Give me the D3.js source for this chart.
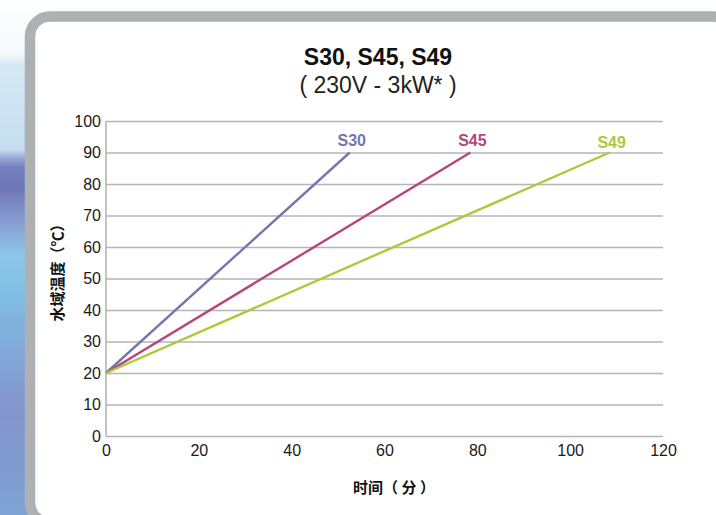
<!DOCTYPE html>
<html>
<head>
<meta charset="utf-8">
<script src="https://cdn.jsdelivr.net/npm/d3@7"></script>
<style>
  html, body { margin: 0; padding: 0; background: #fff; }
  svg { display: block; }
  .tick-label { font-family: "Liberation Sans", Arial, sans-serif; font-size: 16px; fill: #1a1a1a; }
  .cjk { font-family: "Noto Sans CJK SC", sans-serif; font-weight: 700; font-size: 15px; fill: #111; }
</style>
</head>
<body>
<div id="chart"></div>
<script>
// ---- data ----
const xTicks = [0, 20, 40, 60, 80, 100, 120];
const yTicks = [0, 10, 20, 30, 40, 50, 60, 70, 80, 90, 100];

const seriesNames = ['S30', 'S45', 'S49'];
const seriesColors = ['#7676ad', '#b6467b', '#a9cb3a'];

// time (min) / water temperature (°C)
const timeS30 = [0, 52.5];
const tempS30 = [20, 90];
const timeS45 = [0, 78.5];
const tempS45 = [20, 90];
const timeS49 = [0, 108.5];
const tempS49 = [20, 90];

const seriesTimes = [timeS30, timeS45, timeS49];
const seriesTemps = [tempS30, tempS45, tempS49];

// ---- layout ----
const W = 716, H = 515;
const plot = { left: 106, top: 121, right: 663, bottom: 436 };

const svg = d3.select('#chart').append('svg')
    .attr('width', W)
    .attr('height', H);

// background strip on the left
const defs = svg.append('defs');
const grad = defs.append('linearGradient')
    .attr('id', 'bg')
    .attr('x1', 0).attr('y1', 0).attr('x2', 0).attr('y2', 1);
[
    [0, '#ffffff'], [0.105, '#f4f8fb'], [0.125, '#d6e8f4'], [0.29, '#c6def0'],
    [0.305, '#9dadd8'], [0.325, '#7680bf'], [0.365, '#6e77b6'], [0.42, '#8696cd'],
    [0.5, '#8cc8e8'], [0.56, '#80c0e4'], [0.68, '#80a9d9'], [0.8, '#8494cc'],
    [0.9, '#7f9bd0'], [1, '#7fa4d4']
].forEach(([o, c]) => grad.append('stop').attr('offset', o).attr('stop-color', c));

svg.append('rect')
    .attr('x', 0).attr('y', 0)
    .attr('width', 40).attr('height', H)
    .attr('fill', 'url(#bg)');

// card (runs off the right and bottom edges)
svg.append('rect')
    .attr('x', 30).attr('y', 16.5)
    .attr('width', 702).attr('height', 506)
    .attr('rx', 20).attr('ry', 20)
    .attr('fill', '#fff')
    .attr('stroke', '#adb1b4')
    .attr('stroke-width', 10.5);

// ---- scales ----
const x = d3.scaleLinear().domain([0, 120]).range([plot.left, plot.right]);
const y = d3.scaleLinear().domain([0, 100]).range([plot.bottom, plot.top]);

// gridlines
svg.append('g')
    .attr('transform', `translate(${plot.left},0)`)
    .call(d3.axisLeft(y).tickValues(yTicks).tickSize(-(plot.right - plot.left)).tickFormat(''))
    .call(g => g.select('.domain').remove())
    .call(g => g.selectAll('.tick line').attr('stroke', '#b5b5b5').attr('stroke-width', 1.4));

// left axis line
svg.append('line')
    .attr('x1', plot.left).attr('x2', plot.left)
    .attr('y1', y(100)).attr('y2', y(0))
    .attr('stroke', '#b5b5b5')
    .attr('stroke-width', 1.6);

// y tick labels
svg.append('g')
    .attr('transform', `translate(${plot.left},0)`)
    .call(d3.axisLeft(y).tickValues(yTicks).tickSize(0).tickPadding(5))
    .call(g => g.select('.domain').remove())
    .call(g => g.selectAll('text').attr('class', 'tick-label').attr('fill', null).attr('font-size', null).attr('font-family', null));

// x tick labels
svg.append('g')
    .attr('transform', `translate(0,${plot.bottom})`)
    .call(d3.axisBottom(x).tickValues(xTicks).tickSize(0).tickPadding(9))
    .call(g => g.select('.domain').remove())
    .call(g => g.selectAll('text').attr('class', 'tick-label').attr('fill', null).attr('font-size', null).attr('font-family', null));

// ---- lines ----
const line = d3.line()
    .x(d => x(d[0]))
    .y(d => y(d[1]));

seriesNames.forEach((name, i) => {
    const pts = seriesTimes[i].map((t, j) => [t, seriesTemps[i][j]]);
    svg.append('path')
        .datum(pts)
        .attr('d', line)
        .attr('fill', 'none')
        .attr('stroke', seriesColors[i])
        .attr('stroke-width', 2.4);

    const last = pts[pts.length - 1];
    svg.append('text')
        .attr('x', x(last[0]) + 2)
        .attr('y', y(last[1]) - (i === 2 ? 5 : 7))
        .attr('text-anchor', 'middle')
        .attr('font-family', '"Liberation Sans", Arial, sans-serif')
        .attr('font-weight', 700)
        .attr('font-size', 16)
        .attr('fill', seriesColors[i])
        .text(name);
});

// ---- titles ----
svg.append('text')
    .attr('x', 378).attr('y', 65)
    .attr('text-anchor', 'middle')
    .attr('font-family', '"Liberation Sans", Arial, sans-serif')
    .attr('font-weight', 700)
    .attr('font-size', 23)
    .attr('fill', '#111')
    .text('S30, S45, S49');

svg.append('text')
    .attr('x', 378).attr('y', 93)
    .attr('text-anchor', 'middle')
    .attr('font-family', '"Liberation Sans", Arial, sans-serif')
    .attr('font-size', 23)
    .attr('fill', '#222')
    .text('( 230V - 3kW* )');

// axis titles
svg.append('text')
    .attr('class', 'cjk')
    .attr('transform', 'translate(56,269) rotate(-90)')
    .attr('text-anchor', 'middle')
    .attr('dominant-baseline', 'central')
    .text('水域温度（℃）');

svg.append('text')
    .attr('class', 'cjk')
    .attr('x', 394).attr('y', 486)
    .attr('text-anchor', 'middle')
    .attr('dominant-baseline', 'central')
    .text('时间（ 分 ）');
</script>
</body>
</html>
